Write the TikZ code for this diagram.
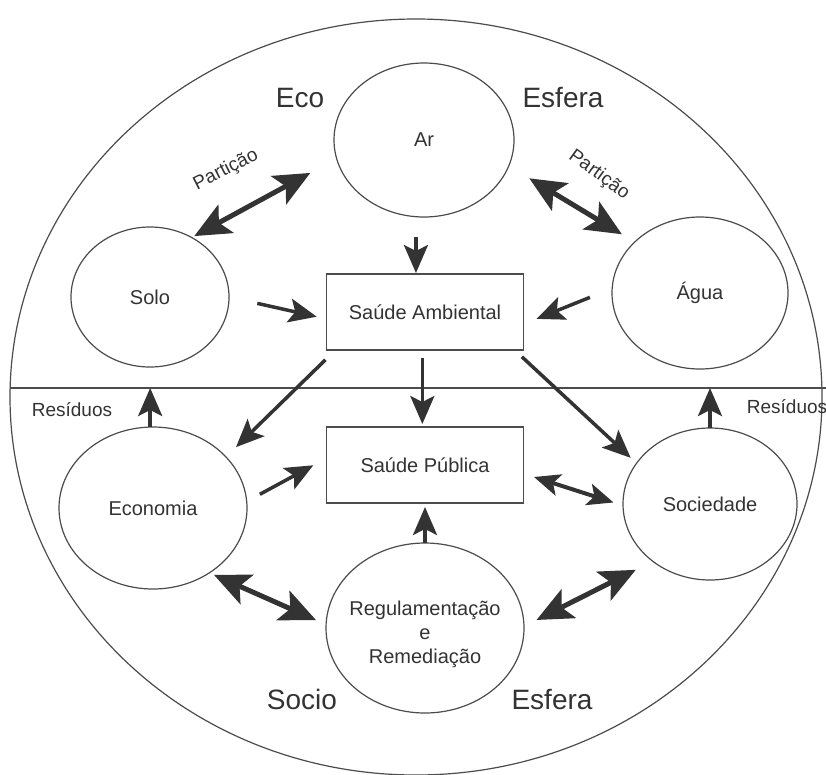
\documentclass[tikz,border=0pt]{standalone}
\usepackage{fontspec}
\setmainfont{Liberation Sans}
\usetikzlibrary{arrows.meta,shapes.geometric}
\begin{document}
\begin{tikzpicture}[x=1pt, y=-1pt,
        every node/.style = {align=center, text=black!80, font=\fontsize{20}{24}\selectfont},
        circ/.style = {draw=black!70, line width=1.2pt, ellipse, inner sep=0pt, outer sep=0pt},
        box/.style = {draw=black!70, line width=1.2pt, rectangle, minimum width=197pt,
            minimum height=76pt, inner sep=0pt, outer sep=0pt},
        arr/.style = {draw=black!80, line width=3.5pt, -{Stealth[length=28pt,width=24pt,inset=6pt]}},
        dbl/.style = {draw=black!80, line width=5pt,
            {Stealth[length=36pt,width=32pt,inset=8pt]}-{Stealth[length=36pt,width=32pt,inset=8pt]}},
        dbls/.style = {draw=black!80, line width=4pt,
            {Stealth[length=26pt,width=22pt,inset=6pt]}-{Stealth[length=26pt,width=22pt,inset=6pt]}},
        big/.style = {font=\fontsize{28}{32}\selectfont},
        small/.style = {font=\fontsize{19}{22}\selectfont}]
    \useasboundingbox (0,0) rectangle (826,774);
    \fill[white] (0,0) rectangle (826,774);

    \draw[draw=black!70, line width=1.2pt] (416,397) ellipse [x radius=406pt, y radius=378pt];
    \coordinate (divl) at (10,388);
    \coordinate (divr) at (826,388);
    \draw[draw=black!70, line width=1.2pt] (divl) -- (divr);

    \node[circ, minimum width=180pt, minimum height=154pt] (ar) at (424,140) {Ar};
    \node[circ, minimum width=158pt, minimum height=140pt] (solo) at (150,297) {Solo};
    \node[circ, minimum width=176pt, minimum height=152pt] (agua) at (700,293) {Água};
    \node[box] (sa) at (425,312) {Saúde Ambiental};
    \node[box] (sp) at (425,465) {Saúde Pública};
    \node[circ, minimum width=188pt, minimum height=162pt] (econ) at (153,508) {Economia};
    \node[circ, minimum width=174pt, minimum height=152pt] (soc) at (710,504) {Sociedade};
    \node[circ, minimum width=198pt, minimum height=170pt] (reg) at (425,628) {};
    \node (regtxt) at (425,634) {Regulamentação\\e\\Remediação};

    \node[big] (eco) at (300,98) {Eco};
    \node[big] (esfera) at (563,98) {Esfera};
    \node[big] (socio) at (302,699) {Socio};
    \node[big] (esfera2) at (552,699) {Esfera};
    \node[small, rotate=27] (part1) at (226,170) {Partição};
    \node[small, rotate=-36] (part2) at (599,175) {Partição};
    \node[small] (res1) at (72,410) {Resíduos};
    \node[small] (res2) at (787,407) {Resíduos};

    \draw[dbl, shorten <=3pt, shorten >=30pt] (solo.55) -- (ar.192);
    \draw[dbl, shorten <=24pt, shorten >=15pt] (ar.343) -- (agua.142);
    \draw[arr, shorten <=20pt, shorten >=1pt] (ar.264) -- (ar.264 |- sa.north);
    \draw[arr, shorten <=29pt, shorten >=10pt] (solo.0) -- (sa.184);
    \draw[arr, shorten <=24pt, shorten >=14pt] (agua.177) -- (sa.353);
    \draw[arr, shorten <=14pt, shorten >=14pt] (sa.203) -- (econ.35);
    \draw[arr, shorten <=8pt, shorten >=3pt] (sa.266) -- (sa.266 |- sp.north);
    \draw[arr, shorten <=10pt, shorten >=8pt] (sa.337) -- (soc.151);
    \draw[arr] (econ.92) -- (econ.92 |- divl);
    \draw[arr] (soc.90) -- (soc.90 |- divr);
    \draw[arr, shorten <=15pt, shorten >=15pt] (econ.4) -- (sp.176);
    \draw[dbls, shorten <=11pt, shorten >=10pt] (sp.355) -- (soc.181);
    \draw[arr, shorten >=4pt] (reg.90) -- (reg.90 |- sp.south);
    \draw[dbl, shorten <=5pt, shorten >=11pt] (econ.311) -- (reg.178);
    \draw[dbl, shorten <=14pt, shorten >=19pt] (reg.1) -- (soc.225);
\end{tikzpicture}
\end{document}
